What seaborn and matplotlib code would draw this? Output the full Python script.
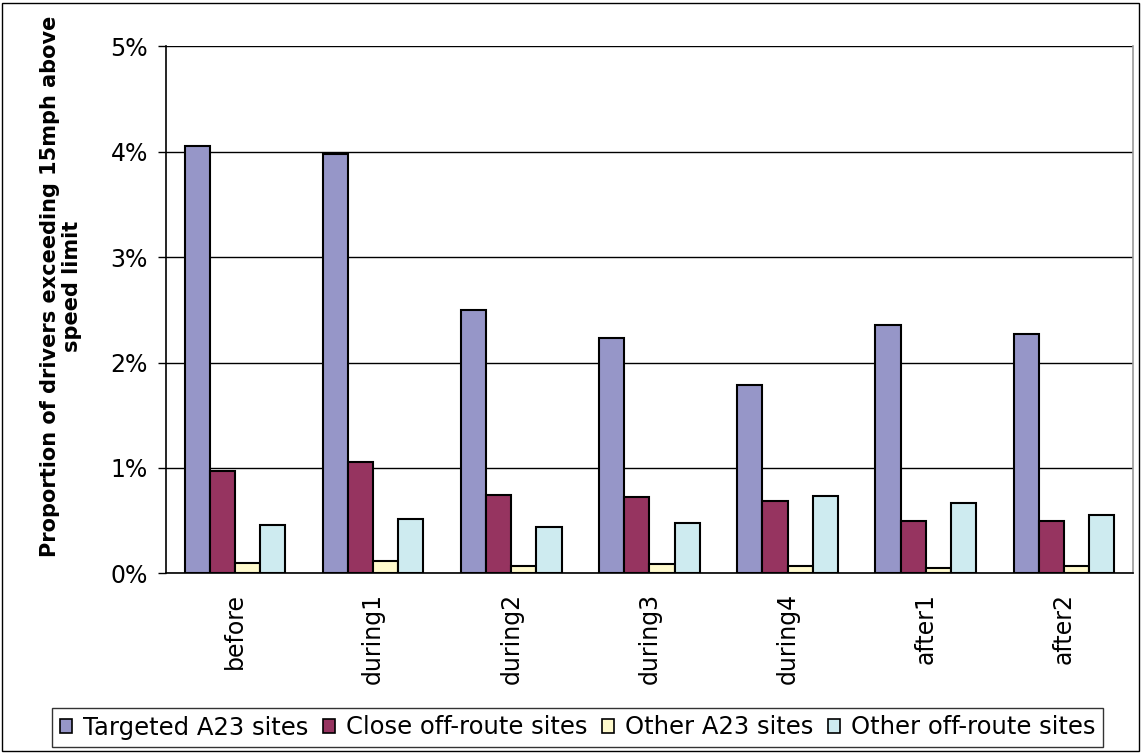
import matplotlib
matplotlib.use("Agg")
import matplotlib.pyplot as plt
from matplotlib.patches import Rectangle, Patch
from matplotlib.ticker import FixedLocator, FuncFormatter
import numpy as np
import pandas as pd
import seaborn as sns

categories = ["before", "during1", "during2", "during3", "during4", "after1", "after2"]
series_names = ["Targeted A23 sites", "Close off-route sites",
                "Other A23 sites", "Other off-route sites"]
targeted_a23 = [4.05, 3.98, 2.50, 2.23, 1.79, 2.36, 2.27]
close_off_route = [0.97, 1.06, 0.74, 0.72, 0.69, 0.50, 0.50]
other_a23 = [0.10, 0.12, 0.07, 0.09, 0.07, 0.05, 0.07]
other_off_route = [0.46, 0.52, 0.44, 0.48, 0.73, 0.67, 0.55]
colors = ["#9696C8", "#963460", "#FFFACD", "#CEEBF0"]

df = pd.DataFrame({
    "period": categories * 4,
    "site": np.repeat(series_names, len(categories)),
    "value": targeted_a23 + close_off_route + other_a23 + other_off_route,
})

sns.set_theme(style="white")
plt.rcParams["font.family"] = ["DejaVu Sans"]
plt.rcParams["text.color"] = "black"
plt.rcParams["axes.labelcolor"] = "black"
plt.rcParams["xtick.color"] = "black"
plt.rcParams["ytick.color"] = "black"

fig = plt.figure(figsize=(11.42, 7.53), dpi=100)
ax = fig.add_axes([0.1454, 0.2386, 0.992 - 0.1454, 0.9385 - 0.2386])

sns.barplot(data=df, x="period", y="value", hue="site", order=categories,
            hue_order=series_names, palette=colors, width=4 / 5.5, gap=0,
            edgecolor="black", linewidth=1.5, saturation=1, ax=ax, legend=False)

ax.set_ylim(0, 5)
ax.set_xlim(-0.5, len(categories) - 0.5)
ax.yaxis.set_major_locator(FixedLocator([0, 1, 2, 3, 4, 5]))
ax.yaxis.set_major_formatter(FuncFormatter(lambda v, _: f"{v:.0f}%"))
ax.grid(axis="y", color="black", linewidth=1.0)
ax.set_axisbelow(True)

# tick marks at category boundaries, labels at category centres
ax.set_xticks(range(len(categories)))
ax.set_xticklabels(categories, rotation=90, fontsize=17)
ax.set_xticks(np.arange(-0.5, len(categories)), minor=True)
ax.tick_params(axis="x", which="major", length=0, pad=14)
ax.tick_params(axis="x", which="minor", length=6, width=1, color="black", direction="out")
ax.tick_params(axis="y", length=6, width=1, color="black", direction="out",
               labelsize=17, pad=7, left=True)

for side in ("left", "bottom"):
    ax.spines[side].set_color("black")
    ax.spines[side].set_linewidth(1.2)
ax.spines["right"].set_color("#999999")
ax.spines["right"].set_linewidth(1.2)
ax.spines["top"].set_visible(False)

ax.set_xlabel("")
ax.set_ylabel("Proportion of drivers exceeding 15mph above\nspeed limit",
              fontsize=15, fontweight="bold", linespacing=1.1)
ax.yaxis.set_label_coords(-0.087, 0.545)

handles = [Patch(facecolor=c, edgecolor="black", linewidth=1.2) for c in colors]
leg = fig.legend(handles, series_names, loc="center", ncol=4,
                 bbox_to_anchor=(577.5 / 1142, 1 - 727.5 / 753),
                 fontsize=17.5, frameon=True, fancybox=False, edgecolor="black",
                 handlelength=0.5, handleheight=0.5, handletextpad=0.45,
                 columnspacing=0.6, borderpad=0.3)
leg.get_frame().set_linewidth(1.0)

fig.patches.append(Rectangle((0.0015, 0.002), 0.996, 0.994, transform=fig.transFigure,
                             fill=False, edgecolor="black", linewidth=1.0))

fig.savefig("out.png", dpi=100, facecolor="white")
